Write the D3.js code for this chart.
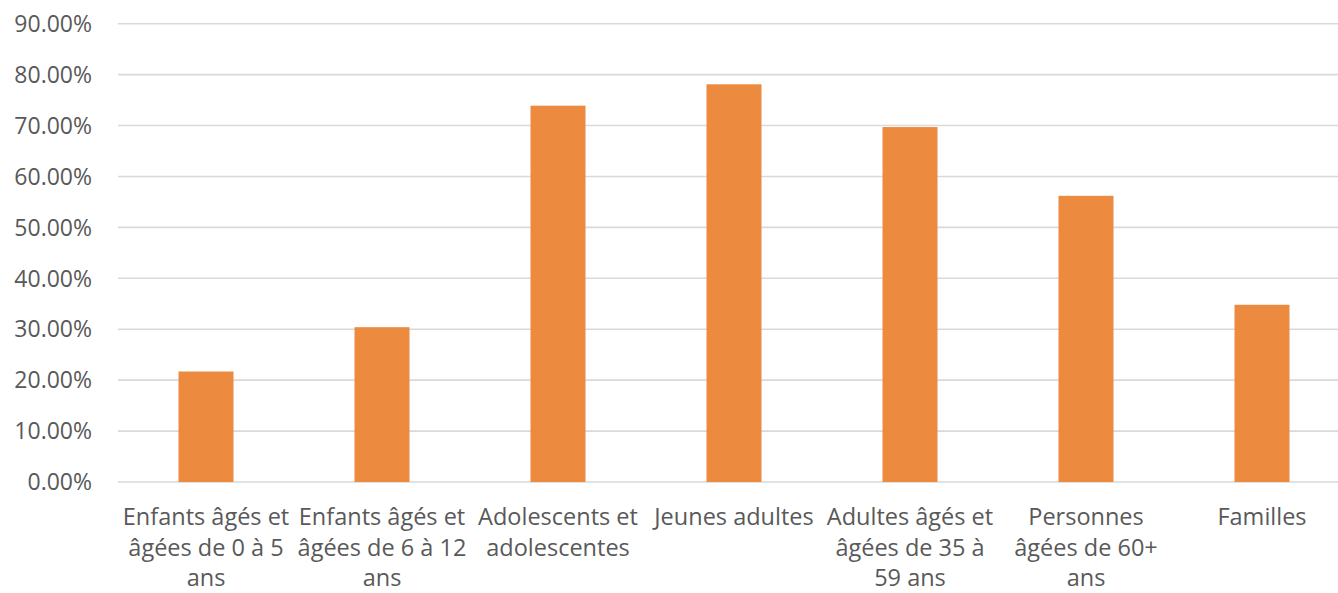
<!DOCTYPE html>
<html>
<head>
<meta charset="utf-8">
<script src="https://cdn.jsdelivr.net/npm/d3@7"></script>
<style>
  html, body { margin: 0; padding: 0; background: #fff; }
  svg { display: block; }
  text { font-family: "Open Sans", "Noto Sans", sans-serif; fill: #595959; }
</style>
</head>
<body>
<svg id="chart" width="1338" height="593"></svg>
<script>
// Categories (one entry per bar) and the wrapped lines shown under each bar
const categories = [
  "Enfants âgés et âgées de 0 à 5 ans",
  "Enfants âgés et âgées de 6 à 12 ans",
  "Adolescents et adolescentes",
  "Jeunes adultes",
  "Adultes âgés et âgées de 35 à 59 ans",
  "Personnes âgées de 60+ ans",
  "Familles"
];
const categoryLines = [
  ["Enfants âgés et", "âgées de 0 à 5", "ans"],
  ["Enfants âgés et", "âgées de 6 à 12", "ans"],
  ["Adolescents et", "adolescentes"],
  ["Jeunes adultes"],
  ["Adultes âgés et", "âgées de 35 à", "59 ans"],
  ["Personnes", "âgées de 60+", "ans"],
  ["Familles"]
];
// Share per category (percent)
const values = [21.7, 30.4, 73.9, 78.1, 69.7, 56.2, 34.8];
// Y axis ticks (percent)
const yTicks = [0, 10, 20, 30, 40, 50, 60, 70, 80, 90];

const svg = d3.select("#chart");
const plotLeft = 118, plotRight = 1350, plotTop = 23.7, plotBottom = 482;

const x = d3.scaleBand()
  .domain(categories)
  .range([plotLeft, plotRight])
  .paddingInner(0.6875)
  .paddingOuter(0.34375);

const y = d3.scaleLinear().domain([0, 90]).range([plotBottom, plotTop]);

// Horizontal gridlines
svg.append("g")
  .selectAll("line")
  .data(yTicks)
  .join("line")
  .attr("x1", plotLeft)
  .attr("x2", 1338)
  .attr("y1", d => y(d))
  .attr("y2", d => y(d))
  .attr("stroke", "#d9d9d9")
  .attr("stroke-width", 1.6);

// Y tick labels
svg.append("g")
  .selectAll("text")
  .data(yTicks)
  .join("text")
  .attr("x", 92)
  .attr("y", d => y(d))
  .attr("dy", "0.357em")
  .attr("text-anchor", "end")
  .style("font-size", "23px")
  .text(d => d.toFixed(2) + "%");

// Bars
svg.append("g")
  .selectAll("rect")
  .data(values)
  .join("rect")
  .attr("x", (d, i) => x(categories[i]))
  .attr("width", x.bandwidth())
  .attr("y", d => y(d))
  .attr("height", d => y(0) - y(d))
  .attr("fill", "#EC8A40");

// Category labels, wrapped onto several lines
const lab = svg.append("g")
  .selectAll("text")
  .data(categories)
  .join("text")
  .attr("text-anchor", "middle")
  .attr("transform", d => `translate(${x(d) + x.bandwidth() / 2},0)`)
  .style("font-size", "23.5px");

lab.selectAll("tspan")
  .data((d, i) => categoryLines[i])
  .join("tspan")
  .attr("x", 0)
  .attr("y", (d, j) => 525 + j * 30.5)
  .text(d => d);
</script>
</body>
</html>
